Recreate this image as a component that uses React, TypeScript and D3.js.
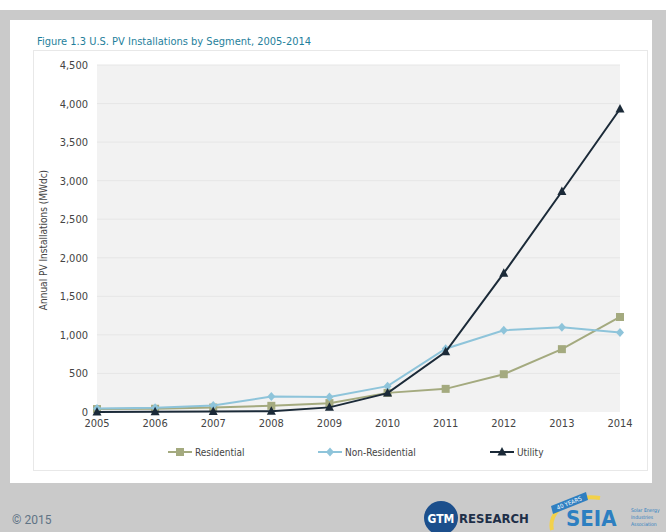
import * as d3 from 'd3';

// Data (MWdc)
const years = [2005, 2006, 2007, 2008, 2009, 2010, 2011, 2012, 2013, 2014];
const residential = [38, 42, 58, 80, 115, 248, 300, 490, 815, 1232];
const nonResidential = [45, 55, 85, 200, 195, 335, 820, 1060, 1100, 1030];
const utility = [0, 2, 8, 10, 60, 245, 780, 1800, 2860, 3930];
const yTicks = [0, 500, 1000, 1500, 2000, 2500, 3000, 3500, 4000, 4500];

const font = "'Liberation Sans Narrow', 'DejaVu Sans Condensed', 'Roboto', sans-serif";

function Marker({ kind, x, y, color }: any) {
  if (kind === 'square') return <rect x={x - 4} y={y - 4} width={8} height={8} fill={color} />;
  if (kind === 'diamond') return <path d={`M${x},${y - 4.5}L${x + 4},${y}L${x},${y + 4.5}L${x - 4},${y}Z`} fill={color} />;
  return <path d={`M${x},${y - 5}L${x + 4.5},${y + 3.5}L${x - 4.5},${y + 3.5}Z`} fill={color} />;
}

export default function App() {
  const W = 666, H = 532;
  const x = d3.scaleLinear().domain([2005, 2014]).range([97, 620]);
  const y = d3.scaleLinear().domain([0, 4500]).range([412, 65]);

  const series = [
    { name: 'Residential', values: residential, color: '#a4aa7f', kind: 'square' },
    { name: 'Non-Residential', values: nonResidential, color: '#8ec4da', kind: 'diamond' },
    { name: 'Utility', values: utility, color: '#1b2a38', kind: 'triangle' },
  ];
  const line = d3.line<number>().x((_, i) => x(years[i])).y(d => y(d));

  const legendX = [168, 318, 490];

  return (
    <svg width={W} height={H} style={{ position: 'absolute', left: 0, top: 0 }} fontFamily={font}>
      <rect x={0} y={0} width={W} height={H} fill="#ffffff" />
      <rect x={0} y={10} width={W} height={H - 10} fill="#cacaca" />
      <rect x={10} y={20} width={642} height={463} fill="#ffffff" />
      <text x={37} y={45} fontSize={11} fill="#1f7f9c">Figure 1.3  U.S. PV Installations by Segment, 2005-2014</text>
      <rect x={33.5} y={50.5} width={614} height={420} fill="none" stroke="#e8e8e8" />

      {/* plot background */}
      <rect x={x(2005)} y={y(4500)} width={x(2014) - x(2005)} height={y(0) - y(4500)} fill="#f2f2f2" />
      {yTicks.map(t => (
        <g key={t}>
          {t > 0 && <line x1={x(2005)} x2={x(2014)} y1={y(t)} y2={y(t)} stroke="#e6e6e6" />}
          <text x={88} y={y(t) + 4} fontSize={11} fill="#444" textAnchor="end">{d3.format(',')(t)}</text>
        </g>
      ))}
      {years.map(yr => (
        <text key={yr} x={x(yr)} y={427} fontSize={11} fill="#444" textAnchor="middle">{yr}</text>
      ))}
      <text transform="translate(47,240) rotate(-90)" fontSize={10} fill="#444" textAnchor="middle">Annual PV Installations (MWdc)</text>

      {series.map(s => (
        <g key={s.name}>
          <path d={line(s.values) as string} fill="none" stroke={s.color} strokeWidth={2} />
          {s.values.map((v, i) => <Marker key={i} kind={s.kind} x={x(years[i])} y={y(v)} color={s.color} />)}
        </g>
      ))}

      {series.map((s, i) => (
        <g key={s.name}>
          <line x1={legendX[i]} x2={legendX[i] + 24} y1={452} y2={452} stroke={s.color} strokeWidth={2} />
          <Marker kind={s.kind} x={legendX[i] + 12} y={452} color={s.color} />
          <text x={legendX[i] + 27} y={456} fontSize={10} fill="#444">{s.name}</text>
        </g>
      ))}

      {/* footer */}
      <text x={12} y={524} fontSize={12} fill="#5f7385" fontFamily="Roboto, sans-serif">© 2015</text>
      <circle cx={441} cy={518} r={17} fill="#1c4f8c" />
      <text x={441} y={523} fontSize={12} fontWeight="bold" fill="#fff" textAnchor="middle" fontFamily={font}>GTM</text>
      <text x={459} y={523} fontSize={13} fontWeight="bold" fill="#1e2f48" fontFamily={font}>RESEARCH</text>
      <path d="M552,530 A40,28 0 0 1 600,498" fill="none" stroke="#f2d14a" strokeWidth={4} />
      <path d="M551,506 L586,492 L588,500 L553,514 Z" fill="#2f7fc1" />
      <text x={570} y={505} fontSize={6} fill="#fff" transform="rotate(-22 570 505)" textAnchor="middle">40 YEARS</text>
      <text x={566} y={526} fontSize={22} fontWeight="bold" fill="#2d7fc1" fontFamily={font}>SEIA</text>
      <text x={631} y={512} fontSize={5} fill="#2d7fc1">Solar Energy</text>
      <text x={631} y={519} fontSize={5} fill="#2d7fc1">Industries</text>
      <text x={631} y={526} fontSize={5} fill="#2d7fc1">Association</text>
    </svg>
  );
}
